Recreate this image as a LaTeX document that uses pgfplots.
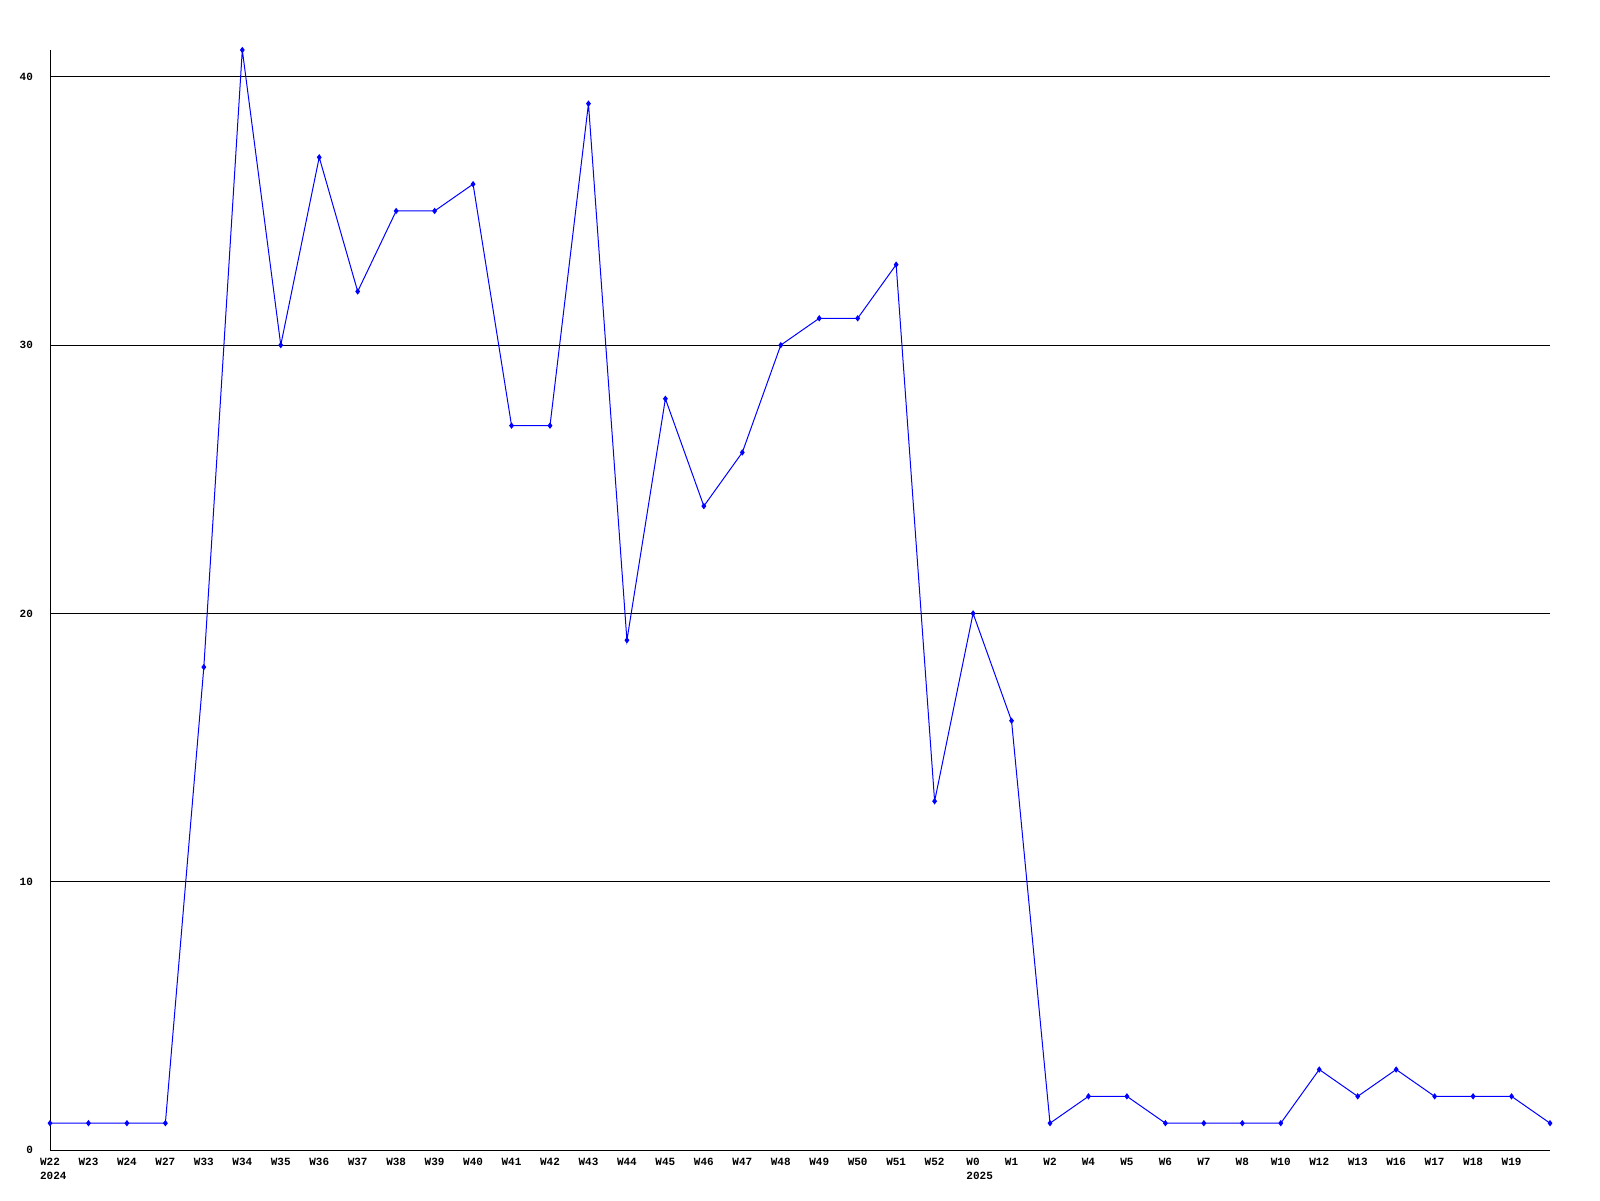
\documentclass[border=0pt]{standalone}
\usepackage{fontspec}
\setmonofont{Liberation Mono}
\usepackage{pgfplots}
\pgfplotsset{compat=1.18}
\begin{document}
\begin{tikzpicture}
\useasboundingbox (-25pt,-25pt) rectangle (775pt,575pt);
\begin{axis}[
  at={(0,0)}, anchor=origin, scale only axis,
  width=750pt, height=550pt,
  xmin=0, xmax=39, ymin=0, ymax=41,
  axis x line*=bottom, axis y line*=left,
  axis line style={black, line width=0.5pt, -},
  ytick={0,10,20,30,40},
  ymajorgrids, grid style={black, line width=0.5pt},
  major tick length=0pt,
  xtick={0,...,38},
  xticklabels={{W22\\\makebox[0pt][l]{2024}\phantom{W22}},W23,W24,W27,W33,W34,W35,W36,W37,W38,W39,W40,W41,W42,W43,W44,W45,W46,W47,W48,W49,W50,W51,W52,{W0\\\makebox[0pt][l]{2025}\phantom{W0}},W1,W2,W4,W5,W6,W7,W8,W10,W12,W13,W16,W17,W18,W19},
  xticklabel style={font=\ttfamily\bfseries\fontsize{5.5}{7}\selectfont, align=center, anchor=north, yshift=-0.5pt},
  yticklabel style={font=\ttfamily\bfseries\fontsize{5.5}{7}\selectfont, anchor=east, xshift=-5pt},
  /pgf/number format/assume math mode=true,
  clip=false,
]
\addplot[blue, line width=0.5pt, mark=diamond*, mark size=1.2pt, mark options={fill=blue}] coordinates {
(0,1)(1,1)(2,1)(3,1)(4,18)(5,41)(6,30)(7,37)(8,32)(9,35)(10,35)(11,36)(12,27)(13,27)(14,39)(15,19)(16,28)(17,24)(18,26)(19,30)(20,31)(21,31)(22,33)(23,13)(24,20)(25,16)(26,1)(27,2)(28,2)(29,1)(30,1)(31,1)(32,1)(33,3)(34,2)(35,3)(36,2)(37,2)(38,2)(39,1)
};
\end{axis}
\end{tikzpicture}
\end{document}
